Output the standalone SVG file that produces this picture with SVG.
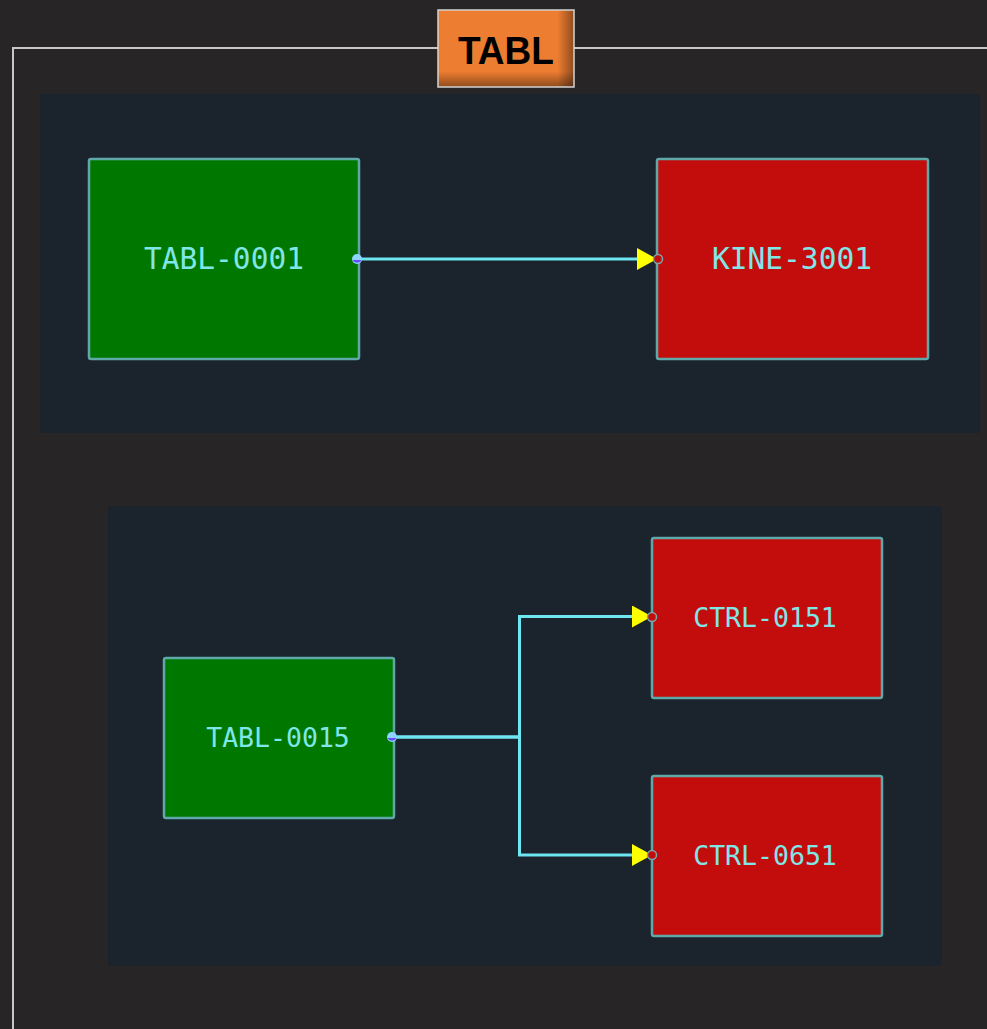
<svg xmlns="http://www.w3.org/2000/svg" width="987" height="1029" viewBox="0 0 987 1029">
  <defs>
    <linearGradient id="shadeRight" x1="0" y1="0" x2="1" y2="0">
      <stop offset="0.88" stop-color="#000" stop-opacity="0"/>
      <stop offset="1" stop-color="#000" stop-opacity="0.4"/>
    </linearGradient>
    <linearGradient id="shadeBottom" x1="0" y1="0" x2="0" y2="1">
      <stop offset="0.8" stop-color="#000" stop-opacity="0"/>
      <stop offset="1" stop-color="#000" stop-opacity="0.4"/>
    </linearGradient>
    <marker id="arrow" viewBox="0 0 20 22" refX="19" refY="11" markerWidth="20" markerHeight="22" markerUnits="userSpaceOnUse" orient="auto">
      <path d="M0,0 L20,11 L0,22 Z" fill="#ffff00"/>
    </marker>
  </defs>
  <style>
    .panel { fill: #1b232d; }
    .node rect { stroke: #5fa8aa; stroke-width: 2.5; }
    .src rect { fill: #007800; }
    .dst rect { fill: #c30c0c; }
    .node text { font-family: "DejaVu Sans Mono", "Liberation Mono", monospace; fill: #80e6e8; text-anchor: middle; dominant-baseline: central; }
    .big text { font-size: 29.5px; }
    .small text { font-size: 26.5px; }
    .wire { fill: none; stroke: #6ee6f2; stroke-width: 3; marker-end: url(#arrow); }
    .outport { fill: #8fd4ff; }
    .outport-low { fill: #6a4cff; }
    .inport { fill: #c30c0c; stroke: #7aa8b0; stroke-width: 1.5; }
  </style>

  <!-- page background and frame -->
  <rect width="987" height="1029" fill="#272525"/>
  <path d="M13,1029 V48 H987" fill="none" stroke="#c8c8c8" stroke-width="2"/>

  <!-- group panels -->
  <rect class="panel" x="40" y="94" width="940" height="339"/>
  <rect class="panel" x="108" y="506" width="834" height="460"/>

  <!-- title badge -->
  <g id="title">
    <rect x="438" y="10" width="136" height="77" fill="#ed7d31"/>
    <rect x="438" y="10" width="136" height="77" fill="url(#shadeRight)"/>
    <rect x="438" y="10" width="136" height="77" fill="url(#shadeBottom)"/>
    <rect x="438" y="10" width="136" height="77" fill="none" stroke="#d4d4d4" stroke-width="1.5"/>
    <text x="506" y="64" font-family="Liberation Sans, Arial, sans-serif" font-weight="bold" font-size="39" text-anchor="middle" textLength="96" lengthAdjust="spacingAndGlyphs" fill="#000">TABL</text>
  </g>

  <!-- connectors -->
  <g id="connectors">
    <path class="wire" d="M357,259 H656"/>
    <path class="wire" d="M392,737 H519.5 V616.5 H651"/>
    <path class="wire" d="M392,737 H519.5 V855 H651"/>
  </g>

  <!-- nodes -->
  <g id="TABL-0001" class="node src big">
    <rect x="89" y="159" width="270" height="200" rx="2"/>
    <text x="224" y="259">TABL-0001</text>
  </g>
  <g id="KINE-3001" class="node dst big">
    <rect x="657" y="159" width="271" height="200" rx="2"/>
    <text x="792" y="259">KINE-3001</text>
  </g>
  <g id="TABL-0015" class="node src small">
    <rect x="164" y="658" width="230" height="160" rx="2"/>
    <text x="278" y="737">TABL-0015</text>
  </g>
  <g id="CTRL-0151" class="node dst small">
    <rect x="652" y="538" width="230" height="160" rx="2"/>
    <text x="765" y="617">CTRL-0151</text>
  </g>
  <g id="CTRL-0651" class="node dst small">
    <rect x="652" y="776" width="230" height="160" rx="2"/>
    <text x="765" y="855">CTRL-0651</text>
  </g>

  <!-- ports -->
  <g id="ports">
    <circle class="outport" cx="357" cy="259" r="5"/>
    <path class="outport-low" d="M352.5,260 A5,5 0 0 0 361.5,260 Z"/>
    <circle class="outport" cx="392" cy="737" r="5"/>
    <path class="outport-low" d="M387.5,738 A5,5 0 0 0 396.5,738 Z"/>
    <circle class="inport" cx="658" cy="259" r="4.5"/>
    <circle class="inport" cx="652" cy="617" r="4.5"/>
    <circle class="inport" cx="652" cy="855" r="4.5"/>
  </g>
</svg>
